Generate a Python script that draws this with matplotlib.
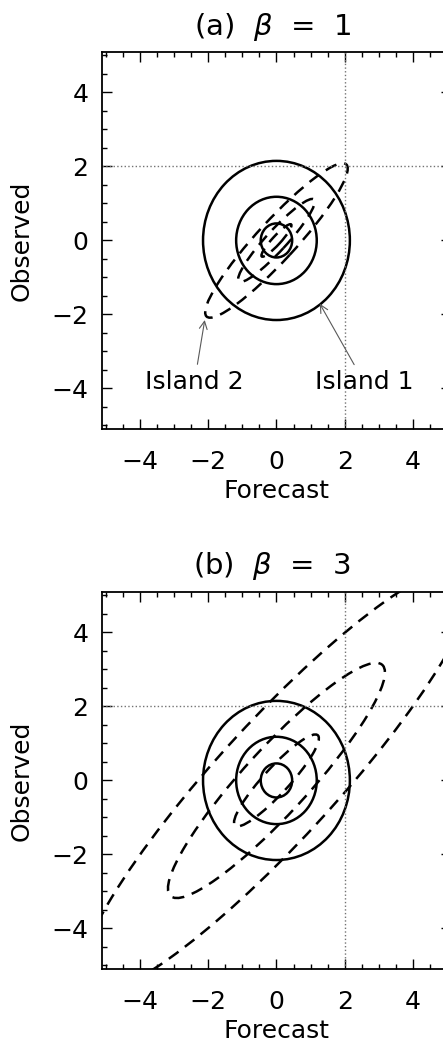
import numpy as np
import matplotlib
matplotlib.use("Agg")
from matplotlib import pyplot as plt
from matplotlib.patches import Ellipse
from matplotlib.ticker import MultipleLocator

# contour sizes (data units)
circle_radius = [0.46, 1.18, 2.15]

beta1_semi_major = [0.61, 1.56, 2.90]
beta1_semi_minor = [0.12, 0.29, 0.55]

beta3_semi_major = [1.72, 4.40, 8.00]
beta3_semi_minor = [0.36, 0.91, 1.66]

panel_titles = ["(a)  $\\beta$  =  1", "(b)  $\\beta$  =  3"]
tick_values = [-4, -2, 0, 2, 4]

island_labels = ["Island 2", "Island 1"]
island_text_xy = [(-2.4, -3.82), (2.56, -3.82)]
island_point_xy = [(-2.1, -2.15), (1.27, -1.71)]

plt.rcParams['font.family'] = ['DejaVu Sans']
plt.rcParams['mathtext.fontset'] = 'dejavusans'

W, H = 443, 1045
fig = plt.figure(figsize=(W / 100, H / 100), dpi=100)

axes_top = [51.7, 591.7]
axes_h = 377.5
axes_left = 102.3
axes_w = 348.3
title_y = [27, 566]

dash = (0, (4.8, 3.2))

for k in range(2):
	ax = fig.add_axes([axes_left / W, 1 - (axes_top[k] + axes_h) / H, axes_w / W, axes_h / H])
	ax.set_xlim(-5.1, 5.1)
	ax.set_ylim(-5.1, 5.1)

	ax.axvline(2, color='0.45', ls=':', lw=1.0)
	ax.axhline(2, color='0.45', ls=':', lw=1.0)

	for r in circle_radius:
		ax.add_patch(Ellipse((0, 0), 2 * r, 2 * r, fill=False, lw=1.8, color='black'))

	if k == 0:
		major, minor = beta1_semi_major, beta1_semi_minor
	else:
		major, minor = beta3_semi_major, beta3_semi_minor
	for a, b in zip(major, minor):
		ax.add_patch(Ellipse((0, 0), 2 * a, 2 * b, angle=45, fill=False, lw=1.8,
							 color='black', linestyle=dash))

	if k == 0:
		for lab, txy, pxy in zip(island_labels, island_text_xy, island_point_xy):
			ax.annotate(lab, xy=pxy, xytext=txy, ha='center', va='center', fontsize=18,
						arrowprops=dict(arrowstyle='->', lw=0.8, color='0.35',
										shrinkA=2, shrinkB=0, mutation_scale=14))

	ax.set_xticks(tick_values)
	ax.set_yticks(tick_values)
	ax.set_xticklabels(['\u2212%d' % -v if v < 0 else '%d' % v for v in tick_values])
	ax.set_yticklabels(['\u2212%d' % -v if v < 0 else '%d' % v for v in tick_values])
	ax.xaxis.set_minor_locator(MultipleLocator(0.5))
	ax.yaxis.set_minor_locator(MultipleLocator(0.5))
	ax.tick_params(which='both', direction='in', top=True, right=True, labelsize=18, width=1.0)
	ax.tick_params(which='major', length=7)
	ax.tick_params(axis='x', which='major', pad=15)
	ax.tick_params(axis='y', which='major', pad=10)
	ax.tick_params(which='minor', length=3.5)
	for s in ax.spines.values():
		s.set_linewidth(1.3)

	ax.set_xlabel('Forecast', fontsize=18)
	ax.set_ylabel('Observed', fontsize=18)
	ax.xaxis.set_label_coords(0.5, -0.132)
	ax.yaxis.set_label_coords(-0.198, 0.5)

	fig.text(272 / W, 1 - title_y[k] / H, panel_titles[k], ha='center', va='center', fontsize=21)

fig.savefig('out.png', dpi=100)
